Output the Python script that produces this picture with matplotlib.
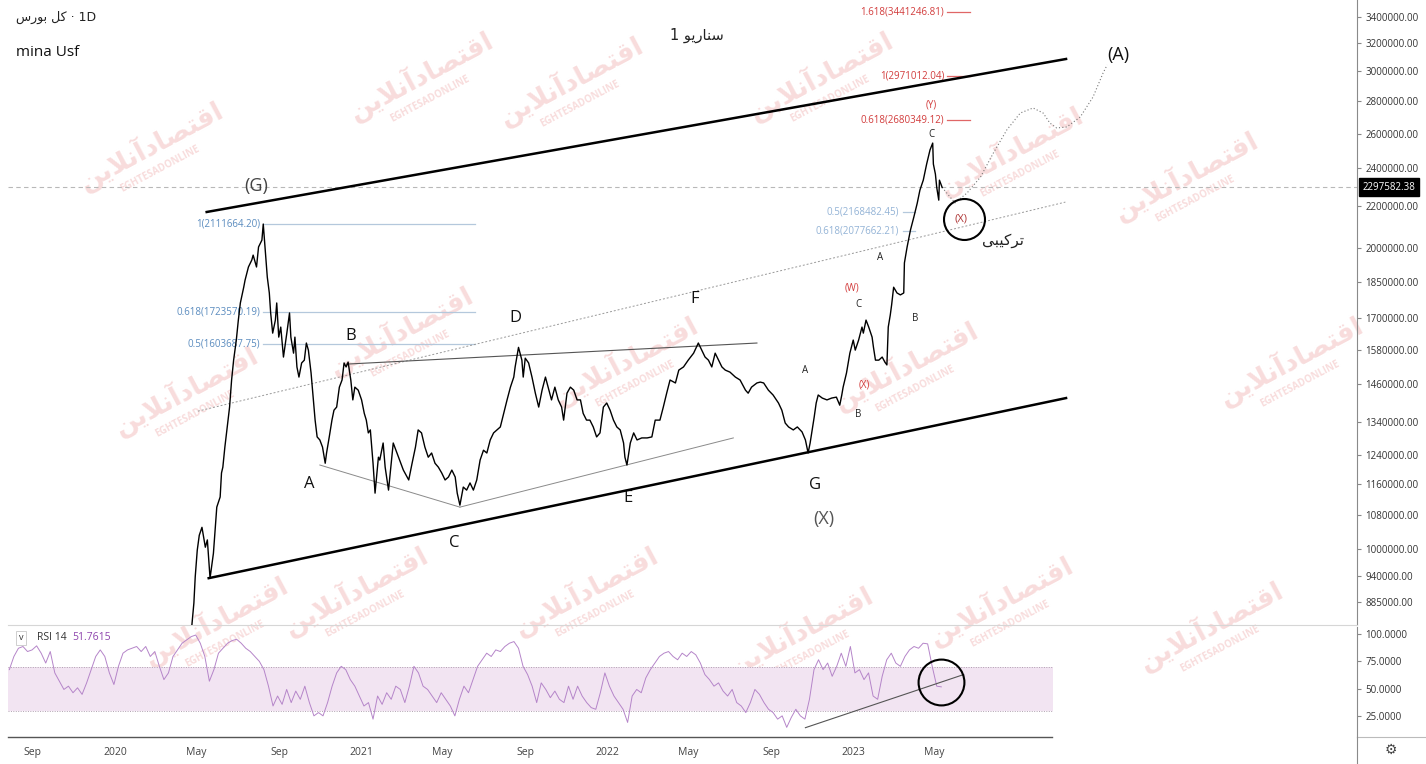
import matplotlib
matplotlib.use('Agg')
import matplotlib.pyplot as plt
import matplotlib.dates as mdates
import matplotlib.ticker as mticker
import pandas as pd

plt.rcParams['font.family'] = ['Open Sans', 'DejaVu Sans']

# ---------------- data ----------------
price_dates = [
    '2020-04-10','2020-04-20','2020-04-24','2020-04-27','2020-04-29','2020-05-02','2020-05-05','2020-05-09','2020-05-14','2020-05-17',
    '2020-05-21','2020-05-26','2020-05-31','2020-06-05','2020-06-07','2020-06-09','2020-06-12','2020-06-15','2020-06-19','2020-06-22',
    '2020-06-25','2020-06-29','2020-07-02','2020-07-05','2020-07-10','2020-07-12','2020-07-17','2020-07-22','2020-07-24','2020-07-29',
    '2020-08-01','2020-08-06','2020-08-08','2020-08-11','2020-08-14','2020-08-17','2020-08-19','2020-08-22','2020-08-26','2020-08-28',
    '2020-08-31','2020-09-03','2020-09-07','2020-09-12','2020-09-16','2020-09-18','2020-09-22','2020-09-24','2020-09-27','2020-09-30',
    '2020-10-04','2020-10-08','2020-10-11','2020-10-14','2020-10-18','2020-10-21','2020-10-24','2020-10-27','2020-10-31','2020-11-04',
    '2020-11-08','2020-11-10','2020-11-14','2020-11-18','2020-11-21','2020-11-25','2020-11-29','2020-12-03','2020-12-06','2020-12-09',
    '2020-12-12','2020-12-16','2020-12-19','2020-12-22','2020-12-27','2021-01-01','2021-01-05','2021-01-08','2021-01-11','2021-01-14',
    '2021-01-16','2021-01-18','2021-01-21','2021-01-26','2021-01-28','2021-02-02','2021-02-05','2021-02-10','2021-02-13','2021-02-17',
    '2021-02-21','2021-02-25','2021-03-04','2021-03-12','2021-03-17','2021-03-22','2021-03-26','2021-03-31','2021-04-05','2021-04-10',
    '2021-04-15','2021-04-20','2021-04-25','2021-04-30','2021-05-05','2021-05-10','2021-05-15','2021-05-20','2021-05-23','2021-05-27',
    '2021-06-01','2021-06-06','2021-06-11','2021-06-16','2021-06-21','2021-06-26','2021-07-01','2021-07-06','2021-07-11','2021-07-16',
    '2021-07-21','2021-07-26','2021-07-31','2021-08-05','2021-08-10','2021-08-15','2021-08-17','2021-08-22','2021-08-27','2021-08-29',
    '2021-09-01','2021-09-06','2021-09-11','2021-09-16','2021-09-21','2021-09-26','2021-10-01','2021-10-05','2021-10-10','2021-10-15',
    '2021-10-20','2021-10-25','2021-10-28','2021-11-02','2021-11-07','2021-11-12','2021-11-17','2021-11-22','2021-11-26','2021-12-01',
    '2021-12-06','2021-12-11','2021-12-16','2021-12-21','2021-12-26','2021-12-31','2022-01-05','2022-01-10','2022-01-15','2022-01-20',
    '2022-01-25','2022-01-27','2022-01-30','2022-02-04','2022-02-09','2022-02-14','2022-02-21','2022-03-01','2022-03-08','2022-03-13',
    '2022-03-20','2022-03-25','2022-03-30','2022-04-04','2022-04-12','2022-04-17','2022-04-24','2022-05-01','2022-05-09','2022-05-16',
    '2022-05-21','2022-05-26','2022-05-31','2022-06-05','2022-06-10','2022-06-15','2022-06-20','2022-06-25','2022-07-02','2022-07-10',
    '2022-07-17','2022-07-25','2022-07-29','2022-08-03','2022-08-11','2022-08-16','2022-08-21','2022-08-28','2022-09-04','2022-09-12',
    '2022-09-17','2022-09-22','2022-09-27','2022-10-04','2022-10-10','2022-10-17','2022-10-22','2022-10-26','2022-10-29','2022-11-01',
    '2022-11-04','2022-11-07','2022-11-10','2022-11-16','2022-11-23','2022-11-30','2022-12-07','2022-12-12','2022-12-15','2022-12-17',
    '2022-12-22','2022-12-27','2023-01-01','2023-01-04','2023-01-09','2023-01-14','2023-01-16','2023-01-20','2023-01-24','2023-01-29',
    '2023-01-31','2023-02-03','2023-02-08','2023-02-13','2023-02-17','2023-02-20','2023-02-22','2023-02-25','2023-02-27','2023-03-02',
    '2023-03-07','2023-03-12','2023-03-17','2023-03-18','2023-03-22','2023-03-27','2023-04-01','2023-04-06','2023-04-10','2023-04-15',
    '2023-04-20','2023-04-25','2023-04-29','2023-04-30','2023-05-03','2023-05-05','2023-05-08','2023-05-09','2023-05-13',
]
price_vals = [
    740000, 811000, 839000, 883000, 938000, 997000, 1032000, 1051000, 1004000, 1021000,
    935000, 990000, 1101000, 1127000, 1191000, 1207000, 1264000, 1315000, 1386000, 1475000,
    1544000, 1617000, 1693000, 1761000, 1826000, 1856000, 1913000, 1944000, 1966000, 1913000,
    2003000, 2035000, 2111664, 1989000, 1869000, 1802000, 1721000, 1643000, 1693000, 1761000,
    1628000, 1666000, 1555000, 1643000, 1721000, 1628000, 1569000, 1628000, 1520000, 1485000,
    1534000, 1544000, 1606000, 1580000, 1499000, 1418000, 1345000, 1294000, 1285000, 1264000,
    1218000, 1247000, 1294000, 1345000, 1376000, 1386000, 1451000, 1475000, 1534000, 1520000,
    1537000, 1475000, 1409000, 1451000, 1441000, 1409000, 1366000, 1345000, 1306000, 1315000,
    1264000, 1218000, 1137000, 1235000, 1227000, 1276000, 1207000, 1145000, 1199000, 1276000,
    1255000, 1235000, 1199000, 1172000, 1218000, 1264000, 1315000, 1306000, 1264000, 1235000,
    1247000, 1218000, 1207000, 1191000, 1172000, 1180000, 1199000, 1180000, 1137000, 1106000,
    1153000, 1145000, 1164000, 1145000, 1172000, 1227000, 1255000, 1247000, 1285000, 1306000,
    1315000, 1324000, 1366000, 1409000, 1451000, 1485000, 1520000, 1590000, 1544000, 1485000,
    1551000, 1534000, 1485000, 1431000, 1386000, 1441000, 1485000, 1451000, 1409000, 1451000,
    1409000, 1386000, 1345000, 1431000, 1451000, 1441000, 1409000, 1409000, 1366000, 1345000,
    1345000, 1324000, 1294000, 1306000, 1386000, 1399000, 1376000, 1345000, 1324000, 1315000,
    1276000, 1235000, 1213000, 1276000, 1306000, 1285000, 1291000, 1291000, 1294000, 1345000,
    1345000, 1386000, 1431000, 1475000, 1465000, 1509000, 1520000, 1544000, 1569000, 1606000,
    1580000, 1555000, 1544000, 1520000, 1569000, 1544000, 1520000, 1509000, 1502000, 1485000,
    1475000, 1441000, 1431000, 1451000, 1465000, 1468000, 1465000, 1441000, 1425000, 1399000,
    1376000, 1336000, 1324000, 1315000, 1324000, 1309000, 1285000, 1247000, 1276000, 1315000,
    1354000, 1399000, 1425000, 1415000, 1409000, 1415000, 1418000, 1392000, 1425000, 1451000,
    1499000, 1569000, 1617000, 1580000, 1617000, 1666000, 1643000, 1693000, 1666000, 1628000,
    1591000, 1544000, 1544000, 1555000, 1537000, 1527000, 1666000, 1713000, 1753000, 1826000,
    1802000, 1794000, 1802000, 1931000, 2003000, 2083000, 2146000, 2215000, 2283000, 2336000,
    2424000, 2504000, 2544000, 2424000, 2369000, 2297000, 2231000, 2336000, 2297582.38,
]
last_price = 2297582.38

# projected path (dotted)
proj_dates = ['2023-05-13','2023-06-01','2023-06-19','2023-07-09','2023-07-28','2023-08-17','2023-09-06','2023-09-25',
              '2023-10-10','2023-10-20','2023-10-30','2023-11-14','2023-12-04','2023-12-23','2024-01-07','2024-01-13']
proj_vals = [2297582, 2217000, 2268000, 2353000, 2486000, 2622000, 2726000, 2758000,
             2726000, 2664000, 2634000, 2640000, 2701000, 2828000, 2989000, 3045000]

# trend lines
chan_low_dates = ['2020-05-19', '2023-11-13']
chan_low_vals = [935000, 1415000]
chan_up_dates = ['2020-05-16', '2023-11-13']
chan_up_vals = [2171000, 3087000]
mid_dates = ['2020-05-03', '2023-11-12']
mid_vals = [1373000, 2221000]
tri_ac_dates = ['2020-10-31', '2021-05-27']
tri_ac_vals = [1213000, 1101000]
tri_ce_dates = ['2021-05-27', '2022-07-07']
tri_ce_vals = [1101000, 1291000]
tri_bd_dates = ['2020-12-10', '2022-08-11']
tri_bd_vals = [1530000, 1606000]

# fibonacci levels
fib_left = [(1, 2111664.20), (0.618, 1723570.19), (0.5, 1603687.75)]
fib_right = [(0.5, 2168482.45), (0.618, 2077662.21)]
fib_red = [(1.618, 3441246.81), (1, 2971012.04), (0.618, 2680349.12)]

# price axis ticks
price_ticks = [885000, 940000, 1000000, 1080000, 1160000, 1240000, 1340000, 1460000, 1580000,
               1700000, 1850000, 2000000, 2200000, 2400000, 2600000, 2800000, 3000000, 3200000, 3400000]
time_ticks = ['2019-09-01', '2020-01-01', '2020-05-01', '2020-09-01', '2021-01-01', '2021-05-01', '2021-09-01',
              '2022-01-01', '2022-05-01', '2022-09-01', '2023-01-01', '2023-05-01']

# RSI 14
rsi_start = '2019-07-28'
rsi_vals = [
    67.5, 79.5, 87.0, 88.6, 84.0, 85.5, 89.2, 82.5, 73.5, 84.0, 64.5, 56.9, 49.4, 52.4, 46.4, 50.9, 44.9, 55.4, 67.5, 79.5,
    85.5, 79.5, 64.5, 53.9, 70.5, 82.5, 85.5, 87.0, 88.6, 84.0, 88.6, 79.5, 84.0, 70.5, 58.4, 64.5, 79.5, 85.5, 91.6, 94.6,
    97.6, 99.1, 91.6, 79.5, 56.9, 67.5, 82.5, 87.0, 91.6, 94.0, 95.2, 91.6, 87.0, 84.0, 79.5, 75.0, 67.5, 52.4, 34.3, 43.4,
    35.8, 49.4, 37.4, 47.9, 40.4, 52.4, 37.4, 25.3, 28.3, 25.3, 37.4, 52.4, 64.5, 70.5, 67.5, 58.4, 52.4, 43.4, 34.3, 37.4,
    22.3, 43.4, 35.8, 46.4, 40.4, 52.4, 49.4, 37.4, 52.4, 70.5, 64.5, 52.4, 49.4, 43.4, 37.4, 46.4, 40.4, 34.3, 25.3, 40.4,
    52.4, 46.4, 58.4, 70.5, 76.5, 82.5, 79.5, 85.5, 84.0, 88.6, 91.6, 93.1, 87.0, 70.5, 63.0, 52.4, 37.4, 55.4, 49.4, 41.9,
    47.9, 40.4, 37.4, 52.4, 40.4, 52.4, 43.4, 37.4, 32.8, 31.3, 46.4, 64.5, 52.4, 43.4, 37.4, 31.3, 19.3, 43.4, 49.4, 46.4,
    59.9, 67.5, 73.5, 79.5, 82.5, 84.0, 79.5, 76.5, 82.5, 79.5, 84.0, 81.0, 73.5, 63.0, 58.4, 52.4, 55.4, 47.9, 43.4, 49.4,
    37.4, 34.3, 28.3, 37.4, 49.4, 44.9, 37.4, 31.3, 28.3, 22.3, 25.3, 14.8, 23.8, 31.3, 25.3, 22.3, 40.4, 67.5, 76.5, 67.5,
    73.5, 61.4, 70.5, 82.5, 70.5, 88.6, 64.5, 67.5, 58.4, 64.5, 43.4, 40.4, 61.4, 76.5, 82.5, 73.5, 70.5, 79.5, 85.5, 88.6,
    87.0, 91.6, 91.0, 70.5, 52.4, 51.7615,
]
rsi_trend_dates = ['2022-10-22', '2023-06-14']
rsi_trend_vals = [14.5, 63.0]


def d(s):
    return pd.Timestamp(s)


def dl(lst):
    return pd.to_datetime(lst)


W, H = 1426, 764
fig = plt.figure(figsize=(W / 100, H / 100), dpi=100)
fig.patch.set_facecolor('white')

L, R = 8, 1357
ax = fig.add_axes([L / W, 1 - 625 / H, (R - L) / W, 625 / H])
ax2 = fig.add_axes([L / W, 1 - 737 / H, (R - L) / W, 110 / H], sharex=ax)
for a in (ax, ax2):
    a.set_facecolor('none')

# watermarks (light, behind)
wm_fa = '\uFEE6\uFBFE\uFEFC\uFEE7\uFE81\uFEA9\uFE8E\uFEBC\uFE98\uFED7\uFE8D'
wm_pos = [(150, 145), (1010, 150), (1185, 175), (185, 390), (400, 330), (625, 360), (905, 365), (1290, 360),
          (215, 620), (355, 590), (585, 590), (800, 630), (1000, 600), (1210, 625), (420, 75), (570, 80), (820, 75)]
for (px, py) in wm_pos:
    fig.text(px / W, 1 - py / H, wm_fa, rotation=28, fontsize=19, color='#f8dcdc',
             ha='center', va='center', zorder=-5, family=['DejaVu Sans'], fontweight='bold')
    fig.text(px / W + 0.007, 1 - (py + 24) / H, 'EGHTESADONLINE', rotation=28, fontsize=7,
             color='#f8dcdc', ha='center', va='center', zorder=-5, fontweight='bold')

# ---------------- price pane ----------------
ax.set_yscale('log')
ax.set_ylim(839500, 3535600)
ax.set_xlim(d('2019-07-26'), d('2025-01-18'))

ax.plot(dl(price_dates), price_vals, color='black', lw=1.0, zorder=5)
ax.axhline(last_price, color='#b8b8b8', lw=0.8, ls=(0, (4, 3)), zorder=1)

ax.plot(dl(chan_low_dates), chan_low_vals, color='black', lw=1.8, zorder=4)
ax.plot(dl(chan_up_dates), chan_up_vals, color='black', lw=1.8, zorder=4)
ax.plot(dl(mid_dates), mid_vals, color='#999999', lw=0.7, ls=(0, (2, 2)), zorder=3)
ax.plot(dl(tri_ac_dates), tri_ac_vals, color='#8a8a8a', lw=0.7, zorder=3)
ax.plot(dl(tri_ce_dates), tri_ce_vals, color='#8a8a8a', lw=0.7, zorder=3)
ax.plot(dl(tri_bd_dates), tri_bd_vals, color='#555555', lw=0.8, zorder=3)
ax.plot(dl(proj_dates), proj_vals, color='#777777', lw=0.8, ls=(0, (1, 2)), zorder=3)

# fib levels
for lvl, v in fib_left:
    ax.plot([d('2020-08-08'), d('2021-06-19')], [v, v], color='#b4c8dc', lw=0.9, zorder=2)
    ax.text(d('2020-08-04'), v, f'{lvl}({v:.2f})', color='#5b8cbf', fontsize=7, ha='right', va='center')
for lvl, v in fib_right:
    ax.plot([d('2023-03-16'), d('2023-04-03')], [v, v], color='#b4c8dc', lw=0.9, zorder=2)
    ax.text(d('2023-03-10'), v, f'{lvl}({v:.2f})', color='#93b3d6', fontsize=7, ha='right', va='center')
for lvl, v in fib_red:
    ax.plot([d('2023-05-20'), d('2023-06-24')], [v, v], color='#e06666', lw=0.9, zorder=2)
    ax.text(d('2023-05-16'), v, f'{lvl}({v:.2f})', color='#d23c3c', fontsize=7, ha='right', va='center')

# wave labels
big = dict(fontsize=12, ha='center', va='center')
ax.text(d('2020-07-28'), 2303000, '(G)', color='#444444', fontsize=13, ha='center', va='center')
for lab, dt, v in [('A', '2020-10-15', 1161000), ('B', '2020-12-16', 1632000), ('C', '2021-05-18', 1014000),
                   ('D', '2021-08-18', 1700000), ('E', '2022-02-01', 1124000), ('F', '2022-05-10', 1777000),
                   ('G', '2022-11-05', 1159000)]:
    ax.text(d(dt), v, lab, color='#111111', **big)
ax.text(d('2022-11-19'), 1071000, '(X)', color='#555555', fontsize=13, ha='center', va='center')
ax.text(d('2024-01-29'), 3115000, '(A)', color='#111111', fontsize=13, ha='center', va='center')
for lab, dt, v in [('A', '2022-10-22', 1509000), ('B', '2023-01-08', 1361000), ('C', '2023-01-08', 1753000),
                   ('A', '2023-02-10', 1953000), ('B', '2023-04-03', 1700000), ('C', '2023-04-27', 2594000)]:
    ax.text(d(dt), v, lab, color='#222222', fontsize=7, ha='center', va='center')
for lab, dt, v in [('(W)', '2022-12-30', 1822000), ('(X)', '2023-01-17', 1458000), ('(Y)', '2023-04-27', 2774000)]:
    ax.text(d(dt), v, lab, color='#d23c3c', fontsize=7, ha='center', va='center')
ax.text(d('2023-06-10'), 2136000, '(X)', color='#b03a3a', fontsize=8, ha='center', va='center')
ax.plot([d('2023-06-15')], [2136000], marker='o', ms=29.5, mfc='none', mec='black', mew=1.5, zorder=6)
ax.text(d('2023-08-12'), 2035000, '\uFBFD\uFE92\uFBFF\uFB90\uFEAE\uFE97', color='#222222', fontsize=11,
        ha='center', va='center', family=['DejaVu Sans'])

# price axis
ax.yaxis.tick_right()
ax.yaxis.set_major_locator(mticker.FixedLocator(price_ticks))
ax.yaxis.set_minor_locator(mticker.NullLocator())
ax.yaxis.set_major_formatter(mticker.FuncFormatter(lambda v, p: f'{v:.2f}'))
ax.tick_params(axis='y', labelsize=7, colors='#333333', length=3, pad=3, direction='out')
ax.tick_params(axis='y', color='#888888')
ax.tick_params(axis='x', bottom=False, labelbottom=False)
for s in ('top', 'left'):
    ax.spines[s].set_visible(False)
ax.spines['right'].set_color('#8a8a8a')
ax.spines['bottom'].set_color('#d6d6d6')

ax.annotate(f'{last_price:.2f}', xy=(1.0, last_price), xycoords=ax.get_yaxis_transform(),
            xytext=(4, 0), textcoords='offset points', ha='left', va='center', fontsize=7,
            color='white', bbox=dict(boxstyle='square,pad=0.35', fc='black', ec='black'))

# ---------------- RSI pane ----------------
rsi_dates = pd.date_range(rsi_start, periods=len(rsi_vals), freq='162h')
ax2.set_ylim(6, 106.4)
ax2.fill_between([d('2019-07-26'), d('2023-10-24')], 30, 70, color='#f2e4f2', lw=0, zorder=1)
for lv in (30, 70):
    ax2.plot([d('2019-07-26'), d('2023-10-24')], [lv, lv], color='#b0a0b0', lw=0.7, ls=(0, (1, 1.5)), zorder=2)
ax2.plot(rsi_dates, rsi_vals, color='#b585c9', lw=0.7, zorder=3)
ax2.plot(dl(rsi_trend_dates), rsi_trend_vals, color='#555555', lw=0.8, zorder=4)
ax2.plot([d('2023-05-12')], [56.4], marker='o', ms=33, mfc='none', mec='black', mew=1.5, zorder=5)

ax2.yaxis.tick_right()
ax2.yaxis.set_major_locator(mticker.FixedLocator([25, 50, 75, 100]))
ax2.yaxis.set_major_formatter(mticker.FuncFormatter(lambda v, p: f'{v:.4f}'))
ax2.tick_params(axis='y', labelsize=7, colors='#333333', length=3, pad=3)
ax2.tick_params(axis='y', color='#888888')
for s in ('top', 'left', 'bottom'):
    ax2.spines[s].set_visible(False)
ax2.spines['right'].set_color('#8a8a8a')
ax2.plot([0, 1044 / 1349], [0, 0], transform=ax2.transAxes, color='#555555', lw=1, clip_on=False)

ax2.xaxis.set_major_locator(mticker.FixedLocator(mdates.date2num(dl(time_ticks))))
ax2.xaxis.set_major_formatter(mticker.FuncFormatter(
    lambda v, p: mdates.num2date(v).strftime('%Y') if mdates.num2date(v).month == 1 else mdates.num2date(v).strftime('%b')))
ax2.tick_params(axis='x', length=0, pad=7, labelsize=7.5, colors='#444444')

# ---------------- header texts ----------------
fig.text(16 / W, 1 - 17 / H, '\uFEB1\uFEAD\uFEEE\uFE91 \uFEDE\uFB90 \u00b7 1D', fontsize=9, color='#222222',
         ha='left', va='center', family=['DejaVu Sans'])
fig.text(16 / W, 1 - 53 / H, 'mina Usf', fontsize=11, color='#111111', ha='left', va='center')
fig.text(697 / W, 1 - 35 / H, '1 \uFEEE\uFBFE\uFEAD\uFE8E\uFEE8\uFEB3', fontsize=10.5, color='#222222',
         ha='center', va='center', family=['DejaVu Sans'])

fig.text(37 / W, 1 - 637 / H, 'RSI 14', fontsize=7.5, color='#333333', ha='left', va='center')
fig.text(72 / W, 1 - 637 / H, '51.7615', fontsize=7.5, color='#8e44ad', ha='left', va='center')
fig.text(21 / W, 1 - 638 / H, 'v', fontsize=6.5, color='#333333', ha='center', va='center',
         bbox=dict(boxstyle='square,pad=0.3', fc='white', ec='#c8c8c8', lw=0.6))
fig.text(1391 / W, 1 - 750 / H, '\u2699', fontsize=10, color='#444444', ha='center', va='center',
         family=['DejaVu Sans'])
fig.add_artist(plt.Line2D([R / W, 1], [1 - 737 / H, 1 - 737 / H], color='#bbbbbb', lw=0.8))
fig.add_artist(plt.Line2D([R / W, R / W], [0, 1 - 737 / H], color='#8a8a8a', lw=0.8))

fig.savefig('out.png', dpi=100)
